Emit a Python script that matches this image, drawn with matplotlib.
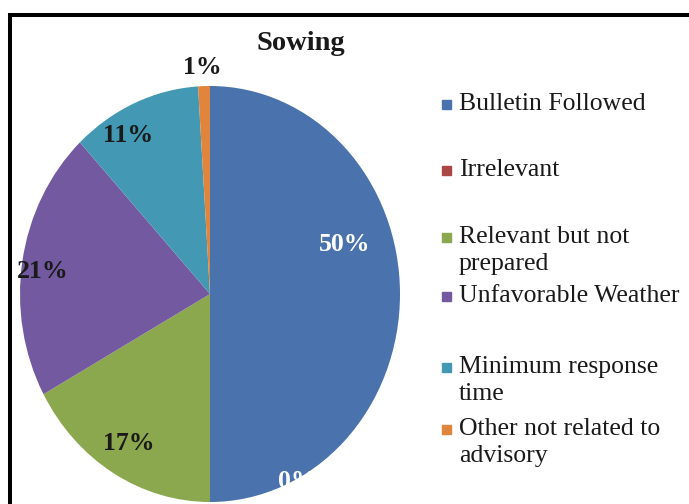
import matplotlib
matplotlib.use("Agg")
import matplotlib.pyplot as plt
from matplotlib.patches import Rectangle

# reasons given for sowing decisions (percent of respondents)
categories = ["Bulletin Followed", "Irrelevant", "Relevant but not prepared",
              "Unfavorable Weather", "Minimum response time",
              "Other not related to advisory"]
legend_labels = ["Bulletin Followed", "Irrelevant", "Relevant but not\nprepared",
                 "Unfavorable Weather", "Minimum response\ntime",
                 "Other not related to\nadvisory"]
shares = [50, 0, 17, 21, 11, 1]
colors = ["#4A72AC", "#AA4643", "#8CA84E", "#7359A0", "#4399B3", "#E0853B"]

W, H = 689, 504
SERIF = ["Liberation Serif", "DejaVu Serif"]


def fx(px):
    return px / W


def fy(py):
    return 1 - py / H


fig = plt.figure(figsize=(W / 100, H / 100), dpi=100)
fig.patch.set_facecolor("white")

# pie axes, slightly taller than wide
ax = fig.add_axes([fx(20), fy(502), 380 / W, 416 / H])
wedges, _ = ax.pie(shares, colors=colors, startangle=90, counterclock=False,
                   radius=1, wedgeprops=dict(linewidth=0))
ax.set_aspect("auto")
ax.set_xlim(-1, 1)
ax.set_ylim(-1, 1)
ax.axis("off")

# percentage labels (data coords of the pie axes)
label_pos = [(0.71, 0.24), (0.46, -0.90), (-0.43, -0.72),
             (-0.88, 0.11), (-0.43, 0.76), (-0.04, 1.09)]
label_col = ["white", "white", "#1a1a1a", "#1a1a1a", "#1a1a1a", "#1a1a1a"]
for v, (x, y), c in zip(shares, label_pos, label_col):
    ax.text(x, y, f"{v}%", ha="center", va="center", color=c,
            fontsize=18.5, fontweight="bold", family=SERIF, clip_on=False)

fig.text(fx(301), fy(44), "Sowing", ha="center", va="center",
         fontsize=20.5, fontweight="bold", family=SERIF, color="#1a1a1a")

# legend: colour square + label, first-line centres in pixels
legend_y = [104, 170, 237, 296, 367, 429]
for lab, col, py in zip(legend_labels, colors, legend_y):
    fig.patches.append(Rectangle((fx(442.5), fy(py + 5)), 9 / W, 9 / H,
                                 transform=fig.transFigure, color=col))
    fig.text(fx(459), fy(py - 11), lab, ha="left", va="top", fontsize=18.5,
             family=SERIF, color="#1a1a1a", linespacing=1.32)

# outer frame
fig.patches.append(Rectangle((fx(9.5), fy(530)), 700 / W, 515.5 / H,
                             transform=fig.transFigure, fill=False,
                             edgecolor="black", linewidth=2.9))

fig.savefig("out.png", dpi=100)
